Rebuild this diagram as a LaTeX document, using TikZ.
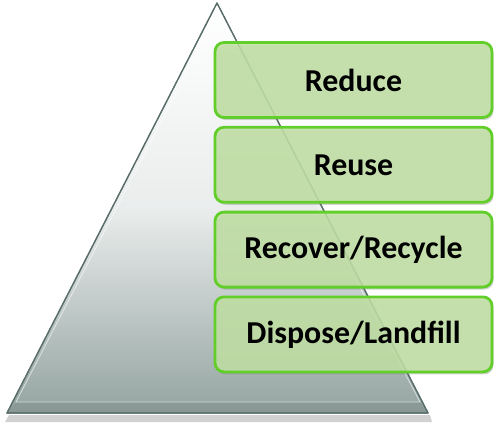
\documentclass[tikz,border=0pt]{standalone}
\usepackage{fontspec}
\setmainfont{Carlito}
\usepackage{xcolor}
\usepackage{tikz}
\usetikzlibrary{positioning,shadows}
\definecolor{boxgreen}{RGB}{194,226,164}
\definecolor{edgegreen}{RGB}{98,206,42}
\definecolor{pyrgray}{RGB}{148,164,161}
\definecolor{pyredge}{RGB}{90,110,107}

\begin{document}
\begin{tikzpicture}[
  x=1bp, y=-1bp,
  font=\fontsize{32}{36}\selectfont\bfseries,
  level/.style={draw=edgegreen, line width=2.8bp, rounded corners=9bp,
    fill=boxgreen, fill opacity=0.84, text opacity=1,
    minimum width=277bp, minimum height=75bp, inner sep=0pt,
    drop shadow={opacity=0.35, shadow xshift=1.5bp, shadow yshift=-2.5bp}},
  pyr/.style={draw=pyredge, line width=1.2bp, line join=round}
]
\useasboundingbox (0,0) rectangle (500,433);
\coordinate (apex) at (217,3);
\coordinate (bl) at (7,413);
\coordinate (br) at (428,413);
\fill[black, opacity=0.18] (9,415) -- (430,415) -- (432,422) -- (5,422) -- cycle;
\shade[pyr, top color=white, bottom color=pyrgray, middle color=white!80!pyrgray]
  (apex) -- (br) -- (bl) -- cycle;
\fill[pyrgray!80!black, opacity=0.35] (bl) -- (br) -- (420,402) -- (16,402) -- cycle;
\draw[white, opacity=0.6, line width=0.8bp] (217,14) -- (420,402) -- (16,402) -- cycle;
\draw[pyr] (apex) -- (br) -- (bl) -- cycle;
\node[level] (reduce) at (353.5,80) {Reduce};
\node[level, below=7bp of reduce] (reuse) {Reuse};
\node[level, below=7bp of reuse] (recover) {Recover/Recycle};
\node[level, below=7bp of recover] (dispose) {Dispose/Landfill};
\end{tikzpicture}
\end{document}
